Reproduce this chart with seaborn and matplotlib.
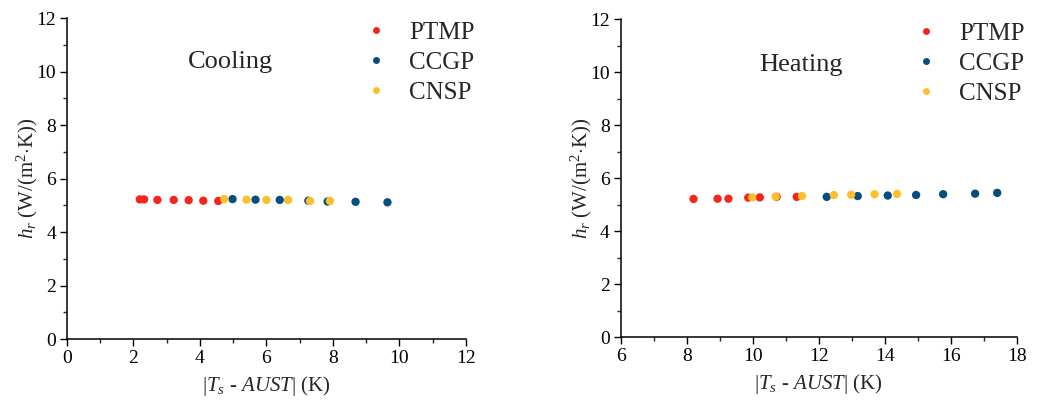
import matplotlib
matplotlib.use("Agg")
import matplotlib.pyplot as plt
import seaborn as sns
import pandas as pd
from matplotlib.ticker import MultipleLocator
from matplotlib.lines import Line2D

# ---- data ----
series = ["PTMP", "CCGP", "CNSP"]
colors = {"PTMP": "#F2261D", "CCGP": "#064E7E", "CNSP": "#FDC02B"}

cool_ptmp_x = [2.19, 2.32, 2.72, 3.21, 3.66, 4.10, 4.55]
cool_ptmp_y = [5.22, 5.22, 5.20, 5.20, 5.19, 5.17, 5.16]
cool_ccgp_x = [4.98, 5.67, 6.40, 7.26, 7.84, 8.68, 9.64]
cool_ccgp_y = [5.23, 5.21, 5.20, 5.17, 5.14, 5.13, 5.11]
cool_cnsp_x = [4.73, 5.40, 6.00, 6.65, 7.31, 7.91]
cool_cnsp_y = [5.23, 5.21, 5.20, 5.20, 5.16, 5.16]

heat_ptmp_x = [8.20, 8.93, 9.26, 9.86, 10.21, 10.72, 11.33]
heat_ptmp_y = [5.22, 5.23, 5.23, 5.27, 5.28, 5.30, 5.30]
heat_ccgp_x = [12.24, 13.18, 14.09, 14.95, 15.77, 16.74, 17.41]
heat_ccgp_y = [5.30, 5.33, 5.35, 5.37, 5.40, 5.42, 5.45]
heat_cnsp_x = [9.98, 10.69, 11.49, 12.46, 12.98, 13.69, 14.37]
heat_cnsp_y = [5.28, 5.31, 5.33, 5.37, 5.38, 5.40, 5.41]


def frame(px, py, cx, cy, nx, ny):
    rows = []
    for name, xs, ys in (("PTMP", px, py), ("CCGP", cx, cy), ("CNSP", nx, ny)):
        for x, y in zip(xs, ys):
            rows.append({"x": x, "y": y, "series": name})
    return pd.DataFrame(rows)


cool = frame(cool_ptmp_x, cool_ptmp_y, cool_ccgp_x, cool_ccgp_y, cool_cnsp_x, cool_cnsp_y)
heat = frame(heat_ptmp_x, heat_ptmp_y, heat_ccgp_x, heat_ccgp_y, heat_cnsp_x, heat_cnsp_y)

sns.set_style("ticks")
plt.rcParams["font.family"] = ["Liberation Serif", "DejaVu Serif"]
plt.rcParams["mathtext.fontset"] = "custom"
plt.rcParams["mathtext.rm"] = "Liberation Serif"
plt.rcParams["mathtext.it"] = "Liberation Serif:italic"
plt.rcParams["mathtext.bf"] = "Liberation Serif:bold"

fig = plt.figure(figsize=(10.37, 4.01), dpi=100)
ax1 = fig.add_axes([0.0646, 0.1546, 0.3847, 0.8004])
ax2 = fig.add_axes([0.5988, 0.1588, 0.3816, 0.7931])

configs = [
    (ax1, cool, "Cooling", (0, 12), (0.303, 0.863), 1.0226),
    (ax2, heat, "Heating", (6, 18), (0.349, 0.856), 1.021),
]

for ax, df, title, xlim, tpos, lx in configs:
    sns.scatterplot(data=df, x="x", y="y", hue="series", hue_order=series,
                    palette=colors, s=36, linewidth=0, edgecolor="none",
                    legend=False, ax=ax)
    ax.set_xlim(*xlim)
    ax.set_ylim(0, 12)
    ax.xaxis.set_major_locator(MultipleLocator(2))
    ax.xaxis.set_minor_locator(MultipleLocator(1))
    ax.yaxis.set_major_locator(MultipleLocator(2))
    ax.yaxis.set_minor_locator(MultipleLocator(1))
    ax.tick_params(which="major", direction="out", length=5, width=1,
                   labelsize=14, colors="black", pad=3)
    ax.tick_params(which="minor", direction="out", length=3, width=1)
    for side in ("top", "right"):
        ax.spines[side].set_visible(False)
    for side in ("left", "bottom"):
        ax.spines[side].set_linewidth(1.1)
        ax.spines[side].set_color("black")
    ax.set_xlabel(r"|$T_s$ - $AUST$| (K)", fontsize=15, labelpad=5)
    ax.set_ylabel(r"$h_r$ (W/(m$^{2}$$\cdot$K))", fontsize=15, labelpad=-3)
    ax.text(tpos[0], tpos[1], title, transform=ax.transAxes, fontsize=19,
            ha="left", va="center")
    handles = [Line2D([], [], marker="o", linestyle="none", markersize=5,
                      markerfacecolor=colors[n], markeredgecolor="none",
                      label=n) for n in series]
    ax.legend(handles=handles, loc="upper right", bbox_to_anchor=(lx, 0.99),
              frameon=False, fontsize=18, handlelength=1.0,
              handletextpad=0.85, labelspacing=0.30, borderaxespad=0.0,
              borderpad=0.0)

fig.savefig("out.png", dpi=100)
